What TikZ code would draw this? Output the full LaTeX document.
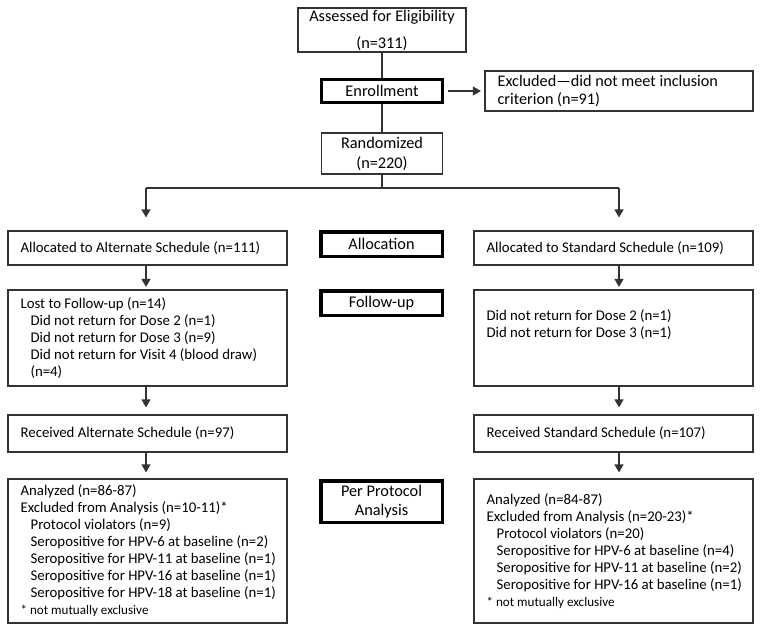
\documentclass[tikz,border=0pt]{standalone}
\usepackage{fontspec}
\setmainfont{Carlito}
\usetikzlibrary{arrows.meta}
\begin{document}
\begin{tikzpicture}[x=1pt,y=-1pt,
  every node/.style={font=\fontsize{14.8}{17}\selectfont},
  big/.style={font=\fontsize{16.3}{18}\selectfont},
  box/.style={draw=black!80, line width=1.2pt, inner sep=0pt},
  lab/.style={draw=black, line width=3.5pt, inner sep=0pt, align=center, big},
  txt/.style={inner sep=0pt, align=left, anchor=west},
  ln/.style={draw=black!80, line width=1.2pt},
  arr/.style={draw=black!80, line width=1.2pt, -{Triangle[width=9pt,length=8pt]}}]
\useasboundingbox (0,0) rectangle (762,631);

% top column
\node[box, big, minimum width=168, minimum height=44, align=center] (assess) at (382,30) {Assessed for Eligibility\\[9pt](n=311)};
\node[lab, minimum width=121, minimum height=23] (enroll) at (382,91) {Enrollment};
\node[box, minimum width=268, minimum height=40] (excl) at (619,91) {};
\node[txt, font=\fontsize{16.2}{18.5}\selectfont] (exclt) at ([xshift=13pt]excl.west) {Excluded—did not meet inclusion\\criterion (n=91)};
\node[box, big, minimum width=121, minimum height=41, align=center] (rand) at (382,153.5) {Randomized\\[2pt](n=220)};

% stage labels
\node[lab, minimum width=121.5, minimum height=24.5] (allocLab) at (381.5,244) {Allocation};
\node[lab, minimum width=121.5, minimum height=24.5] (fuLab) at (381.5,303) {Follow-up};
\node[lab, minimum width=121.5, minimum height=41.5] (ppLab) at (381.5,501.5) {Per Protocol\\[1pt]Analysis};

% left column
\node[box, minimum width=279, minimum height=34] (allocL) at (147.5,248) {};
\node[txt] (allocLt) at ([xshift=13pt]allocL.west) {Allocated to Alternate Schedule (n=111)};
\node[box, minimum width=279, minimum height=96] (lostL) at (147.5,338) {};
\node[txt] (lostLt) at ([xshift=13pt]lostL.west) {Lost to Follow-up (n=14)\\
\hspace*{10pt}Did not return for Dose 2 (n=1)\\
\hspace*{10pt}Did not return for Dose 3 (n=9)\\
\hspace*{10pt}Did not return for Visit 4 (blood draw)\\
\hspace*{10pt}(n=4)};
\node[box, minimum width=279, minimum height=37] (recL) at (147.5,433.5) {};
\node[txt] (recLt) at ([xshift=13pt]recL.west) {Received Alternate Schedule (n=97)};
\node[box, minimum width=279, minimum height=144] (anL) at (147.5,551) {};
\node[txt] (anLt) at ([xshift=13pt]anL.west) {Analyzed (n=86-87)\\
Excluded from Analysis (n=10-11)*\\
\hspace*{10pt}Protocol violators (n=9)\\
\hspace*{10pt}Seropositive for HPV-6 at baseline (n=2)\\
\hspace*{10pt}Seropositive for HPV-11 at baseline (n=1)\\
\hspace*{10pt}Seropositive for HPV-16 at baseline (n=1)\\
\hspace*{10pt}Seropositive for HPV-18 at baseline (n=1)\\
{\fontsize{13.1}{15}\selectfont * not mutually exclusive}};

% right column
\node[box, minimum width=279, minimum height=34] (allocR) at (613.5,248) {};
\node[txt] (allocRt) at ([xshift=13pt]allocR.west) {Allocated to Standard Schedule (n=109)};
\node[box, minimum width=279, minimum height=96] (lostR) at (613.5,338) {};
\node[txt] (lostRt) at ([xshift=13pt,yshift=13.5pt]lostR.west) {Did not return for Dose 2 (n=1)\\
Did not return for Dose 3 (n=1)};
\node[box, minimum width=279, minimum height=37] (recR) at (613.5,433.5) {};
\node[txt] (recRt) at ([xshift=13pt]recR.west) {Received Standard Schedule (n=107)};
\node[box, minimum width=279, minimum height=144] (anR) at (613.5,551) {};
\node[txt] (anRt) at ([xshift=13pt]anR.west) {Analyzed (n=84-87)\\
Excluded from Analysis (n=20-23)*\\
\hspace*{10pt}Protocol violators (n=20)\\
\hspace*{10pt}Seropositive for HPV-6 at baseline (n=4)\\
\hspace*{10pt}Seropositive for HPV-11 at baseline (n=2)\\
\hspace*{10pt}Seropositive for HPV-16 at baseline (n=1)\\
{\fontsize{13.1}{15}\selectfont * not mutually exclusive}};

% connectors
\coordinate (colL) at (146,188);
\coordinate (colR) at (619,188);
\coordinate (jn) at (382,188);
\draw[ln] (assess) -- (enroll);
\draw[ln] (enroll) -- (rand);
\draw[arr, shorten <=4pt, shorten >=3.5pt] (enroll) -- (excl);
\draw[ln] (rand.south) -- (jn);
\draw[ln] (colL) -- (colR);
\draw[arr] (colL) -- ([yshift=13pt]allocL.north -| colL);
\draw[arr] (colR) -- ([yshift=13pt]allocR.north -| colR);
\draw[arr, shorten >=2.5pt] (allocL.south -| colL) -- (lostL.north -| colL);
\draw[arr, shorten >=2.5pt] (allocR.south -| colR) -- (lostR.north -| colR);
\draw[arr, shorten >=7pt] (lostL.south -| colL) -- (recL.north -| colL);
\draw[arr, shorten >=7pt] (lostR.south -| colR) -- (recR.north -| colR);
\draw[arr, shorten >=6pt] (recL.south -| colL) -- (anL.north -| colL);
\draw[arr, shorten >=6pt] (recR.south -| colR) -- (anR.north -| colR);
\end{tikzpicture}
\end{document}
